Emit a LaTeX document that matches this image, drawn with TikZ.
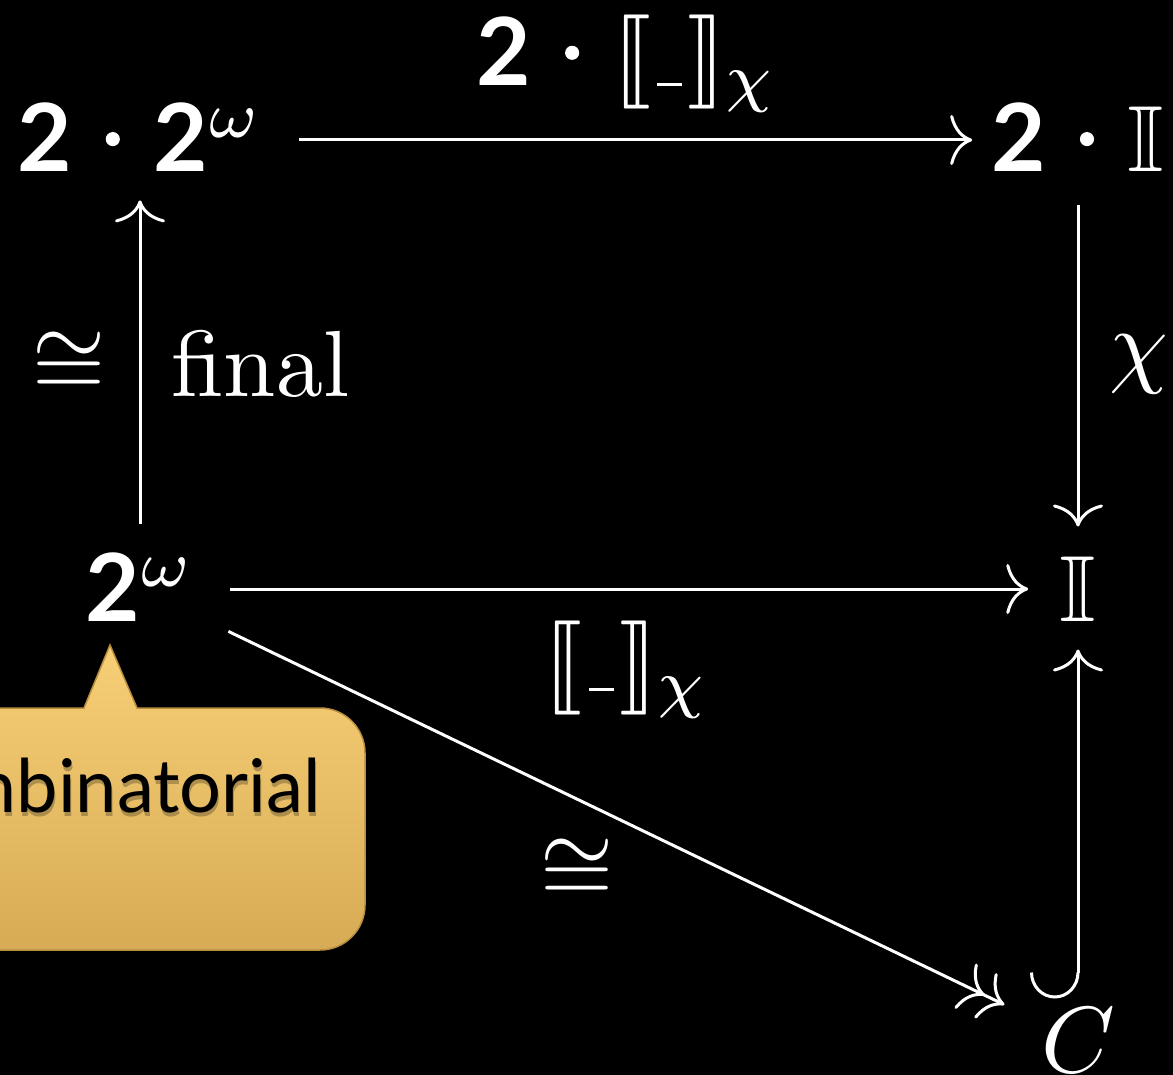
\documentclass[tikz,border=0pt]{standalone}
\usepackage{amsmath}
\usepackage{amssymb}
\usepackage{stmaryrd}
\usepackage{graphicx}
\usepackage{fontspec}
\newfontfamily\lato{Lato}
\usetikzlibrary{arrows.meta}
\definecolor{calTop}{HTML}{F7CF76}
\definecolor{calBot}{HTML}{D7AB55}
\definecolor{calEdge}{HTML}{B88F3F}
\newcommand{\Sc}[1]{\scalebox{4.7}{\fontsize{10}{12}\selectfont #1}}
\newcommand{\tw}{{\lato\bfseries 2}}
\newcommand{\bdot}{\tikz[baseline=-3.5pt]\fill[white] (0,0) circle[radius=0.75pt];}
\newcommand{\gap}{\hspace{3.6pt}}
\newcommand{\sem}{$\llbracket$\hspace{0.64pt}\rule{2.66pt}{0.32pt}\hspace{0.64pt}$\rrbracket_{\chi}$}
\begin{document}
\begin{tikzpicture}[x=0.5pt, y=-0.5pt, line width=1.5pt, white,
  every node/.style={inner sep=0pt, text=white},
  obj/.style={text height=36pt, text depth=4pt, anchor=base},
  lab/.style={},
  calltext/.style={font=\lato\fontsize{37}{44}\selectfont, anchor=base east},
  arr/.style={-{Computer Modern Rightarrow[length=11pt,width=25pt]}},
  dbl/.style={-{Computer Modern Rightarrow[length=11pt,width=25pt]Computer Modern Rightarrow[length=11pt,width=25pt]}},
  hk/.style={{Hooks[right,width=48pt,length=13pt]}-{Computer Modern Rightarrow[length=11pt,width=25pt]}}]
\useasboundingbox (0,0) rectangle (1173,1075);
\fill[black] (0,0) rectangle (1173,1075);
\clip (0,0) rectangle (1173,1075);
% callout
\shade[top color=calTop, bottom color=calBot, draw=calEdge, line width=0.75pt]
  (-100,708) -- (84,708) -- (110,645) -- (137,708) -- (250,708)
  [rounded corners=22.5pt] -- (365,708) -- (365,950) -- (250,950)
  [sharp corners] -- (-100,950) -- cycle;
\node[calltext, text=black, opacity=0.25] (callshadow) at (323,816) {combinatorial};
\node[calltext, text=black] (calltxt) at (322,812) {combinatorial};
% objects
\node[obj] (A) at (140,172) {\Sc{\tw\gap\bdot\gap\tw$^{\omega}$}};
\node[obj] (B) at (1078,172) {\Sc{\tw\gap\bdot\gap$\mathbb{I}$}};
\node[obj] (D) at (140,621) {\Sc{\tw$^{\omega}$}};
\node[obj] (E) at (1078,621) {\Sc{$\mathbb{I}$}};
\node[obj] (C) at (1078,1072) {\Sc{$C$}};
% arrows
\draw[arr, shorten <=18pt, shorten >=9.5pt] (A) -- node[lab, above=13.5pt] (ltop) {\Sc{\tw\gap\bdot\gap\sem}} (B);
\draw[arr, shorten <=17pt, shorten >=15pt] (D) -- node[lab, below=15pt] (lmid) {\Sc{\sem}} (E);
\draw[arr, shorten <=12pt, shorten >=10pt] (D) -- node[lab, left=16.5pt] (liso) {\Sc{$\cong$}} node[lab, right=15pt] (lfin) {\Sc{final}} (A);
\draw[arr, shorten <=12.5pt, shorten >=10.5pt] (B) -- node[lab, right=15pt] (lchi) {\Sc{$\chi$}} (E);
\draw[hk, shorten >=9.5pt] (C) -- (E);
\draw[dbl, shorten <=18pt, shorten >=19.5pt] (D) -- node[lab, xshift=-20.5pt, yshift=-26pt] (ldiag) {\Sc{$\cong$}} (C);
\end{tikzpicture}
\end{document}
